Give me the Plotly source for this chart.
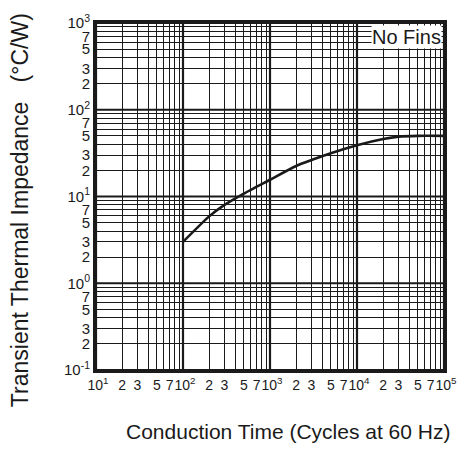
import plotly.graph_objects as go

# Data
time_cycles = [100, 200, 300, 500, 1000, 2000, 5000, 10000, 20000, 30000, 50000, 100000]
impedance = [3.0, 5.9, 8.0, 10.8, 15.6, 22.5, 31.5, 39.0, 46.0, 49.0, 50.0, 50.0]

x_decades = [1, 2, 3, 4, 5]
y_decades = [-1, 0, 1, 2, 3]
labeled_mults = [1, 2, 3, 5, 7]
minor_mults = [4, 6, 8, 9]

def build_ticks(decades, lead=""):
    vals, texts, minors = [], [], []
    for i, d in enumerate(decades):
        for m in labeled_mults:
            if i == len(decades) - 1 and m != 1:
                continue
            vals.append(m * 10 ** d)
            texts.append((lead + "10<sup>%d</sup>" % d) if m == 1 else str(m))
        if i < len(decades) - 1:
            for m in minor_mults:
                minors.append(m * 10 ** d)
    return vals, texts, minors

xv, xt, xm = build_ticks(x_decades, lead="&nbsp;")
yv, yt, ym = build_ticks(y_decades)

FONT = "Liberation Sans, Arial, sans-serif"
INK = "#1a1a1a"

fig = go.Figure()
fig.add_trace(go.Scatter(x=time_cycles, y=impedance, mode="lines",
                         line=dict(color=INK, width=2.6, shape="spline", smoothing=0.6),
                         showlegend=False, hoverinfo="skip"))

# emphasize decade grid lines
shapes = []
for d in x_decades:
    shapes.append(dict(type="line", xref="x", yref="paper", x0=10 ** d, x1=10 ** d, y0=0, y1=1,
                       line=dict(color=INK, width=2.2), layer="below"))
for d in y_decades:
    shapes.append(dict(type="line", yref="y", xref="paper", y0=10 ** d, y1=10 ** d, x0=0, x1=1,
                       line=dict(color=INK, width=2.2), layer="below"))

axis_common = dict(type="log", showgrid=True, gridcolor=INK, gridwidth=1.4,
                   showline=True, linecolor=INK, linewidth=3, mirror=True,
                   ticks="", zeroline=False)

fig.update_layout(
    width=469, height=450,
    margin=dict(l=96, r=17, t=15, b=80),
    paper_bgcolor="white", plot_bgcolor="white",
    shapes=shapes,
    xaxis=dict(axis_common, range=[1, 5], tickvals=xv, ticktext=xt, tickangle=0,
               tickfont=dict(family=FONT, size=14, color=INK),
               minor=dict(tickvals=xm, showgrid=True, gridcolor=INK, gridwidth=1.4, ticks="")),
    yaxis=dict(axis_common, range=[-1, 3], tickvals=yv, ticktext=yt,
               tickfont=dict(family=FONT, size=15, color=INK),
               minor=dict(tickvals=ym, showgrid=True, gridcolor=INK, gridwidth=1.4, ticks="")),
    annotations=[
        dict(text="No Fins", xref="paper", yref="paper", x=0.891, y=0.96,
             xanchor="center", yanchor="middle", showarrow=False,
             bgcolor="white", borderpad=0,
             font=dict(family=FONT, size=20, color=INK)),
        dict(text="Conduction Time (Cycles at 60 Hz)", xref="paper", yref="paper",
             x=0.553, y=-0.177, xanchor="center", yanchor="middle", showarrow=False,
             font=dict(family=FONT, size=21, color=INK)),
        dict(text="Transient Thermal Impedance&nbsp;&nbsp;&nbsp;(°C/W)", xref="paper", yref="paper",
             x=-0.22, y=0.462, xanchor="center", yanchor="middle", showarrow=False,
             textangle=-90, font=dict(family=FONT, size=23, color=INK)),
    ],
)

fig.write_html("out.html")
